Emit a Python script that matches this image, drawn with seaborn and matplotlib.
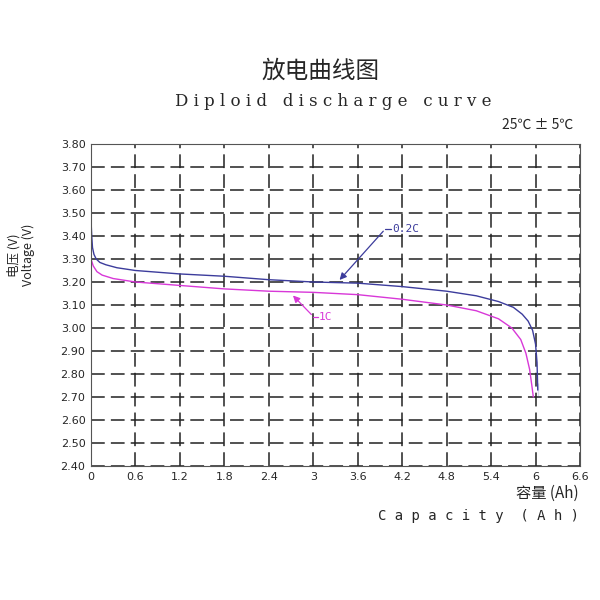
import matplotlib
matplotlib.use("Agg")
import matplotlib.pyplot as plt
import seaborn as sns

cap_02c = [0.0, 0.01, 0.02, 0.04, 0.07, 0.12, 0.2, 0.35, 0.6, 1.2, 1.8, 2.4, 3.0, 3.6, 4.2, 4.8, 5.2, 5.5, 5.7, 5.82, 5.9, 5.96, 6.0, 6.02, 6.03, 6.03]
volt_02c = [3.47, 3.40, 3.35, 3.32, 3.30, 3.285, 3.275, 3.262, 3.25, 3.235, 3.225, 3.21, 3.20, 3.195, 3.18, 3.16, 3.14, 3.115, 3.09, 3.06, 3.03, 2.99, 2.93, 2.85, 2.76, 2.70]
cap_1c = [0.0, 0.03, 0.08, 0.15, 0.3, 0.6, 1.2, 1.8, 2.4, 3.0, 3.6, 4.2, 4.8, 5.2, 5.5, 5.68, 5.8, 5.87, 5.92, 5.95, 5.97]
volt_1c = [3.30, 3.27, 3.245, 3.23, 3.215, 3.20, 3.185, 3.17, 3.16, 3.155, 3.145, 3.125, 3.10, 3.075, 3.04, 3.00, 2.95, 2.89, 2.82, 2.75, 2.70]
xticks = [0, 0.6, 1.2, 1.8, 2.4, 3, 3.6, 4.2, 4.8, 5.4, 6, 6.6]
xlabels = ["0", "0.6", "1.2", "1.8", "2.4", "3", "3.6", "4.2", "4.8", "5.4", "6", "6.6"]
yticks = [2.4 + 0.1 * i for i in range(15)]

sns.set_style("white")
plt.rcParams['font.family'] = ['Noto Sans CJK SC', 'DejaVu Sans']

fig = plt.figure(figsize=(6, 6), dpi=100)
ax = fig.add_axes([91 / 600, 1 - 466 / 600, 489 / 600, 322 / 600])

sns.lineplot(x=cap_02c, y=volt_02c, sort=False, color="#3c3c9c", lw=1.0, ax=ax)
sns.lineplot(x=cap_1c, y=volt_1c, sort=False, color="#d838d8", lw=1.0, ax=ax)

ax.set_xlim(0, 6.6)
ax.set_ylim(2.4, 3.8)
ax.set_xticks(xticks)
ax.set_xticklabels(xlabels, fontsize=8, family="DejaVu Sans")
ax.set_yticks(yticks)
ax.set_yticklabels([f"{v:.2f}" for v in yticks], fontsize=8, family="DejaVu Sans")
ax.grid(True, color="#222222", ls=(0, (9, 4)), lw=1.1)
for s in ax.spines.values():
    s.set_color("#555555")
ax.tick_params(length=0, pad=4)

ax.annotate("", xy=(3.33, 3.2), xytext=(3.97, 3.43),
            arrowprops=dict(arrowstyle="-|>", color="#3c3c9c", lw=0.9))
ax.plot([3.97, 4.05], [3.43, 3.43], color="#3c3c9c", lw=0.9)
ax.text(4.07, 3.43, "0.2C", color="#3c3c9c", fontsize=8, va="center", family="DejaVu Sans Mono")
ax.annotate("", xy=(2.7, 3.15), xytext=(3.0, 3.05),
            arrowprops=dict(arrowstyle="-|>", color="#d838d8", lw=0.9))
ax.plot([3.0, 3.06], [3.05, 3.05], color="#d838d8", lw=0.9)
ax.text(3.08, 3.05, "1C", color="#d838d8", fontsize=8, va="center", family="DejaVu Sans Mono")

fig.text(0.535, 0.87, "放电曲线图", ha="center", fontsize=17)
fig.text(0.555, 0.823, "D i p l o i d   d i s c h a r g e   c u r v e", ha="center", fontsize=12,
         family="DejaVu Serif")
fig.text(0.955, 0.785, "25℃ ± 5℃", ha="right", fontsize=10)
fig.text(0.035, 0.575, "电压 (V)\nVoltage (V)", rotation=90, ha="center", va="center", fontsize=9,
         linespacing=1.1)
fig.text(0.965, 0.17, "容量 (Ah)", ha="right", fontsize=11)
fig.text(0.965, 0.133, "C a p a c i t y  ( A h )", ha="right", fontsize=10, family="DejaVu Sans Mono")

fig.savefig("out.png", dpi=100)
